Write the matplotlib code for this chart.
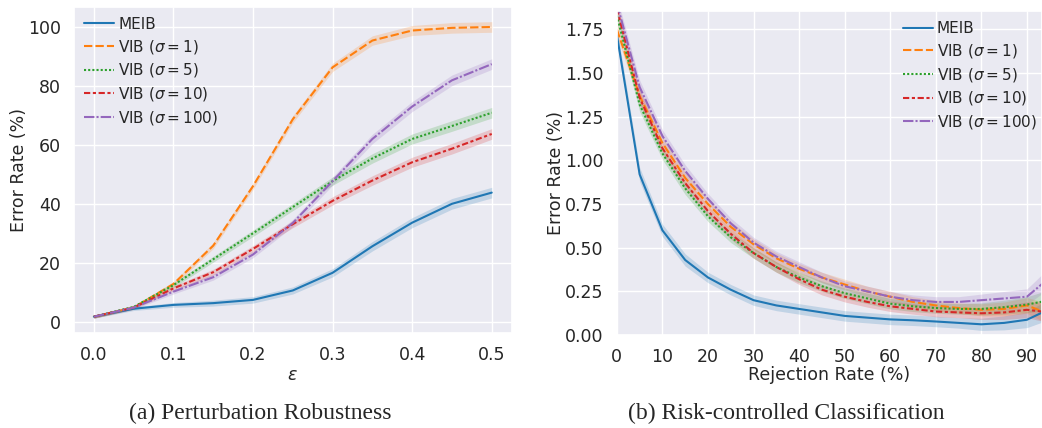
import numpy as np
import matplotlib
matplotlib.use("Agg")
import matplotlib.pyplot as plt
import seaborn as sns

# (a) perturbation robustness
eps = [0.0, 0.05, 0.1, 0.15, 0.2, 0.25, 0.3, 0.35, 0.4, 0.45, 0.5]
meib_a = [1.7, 4.4, 5.7, 6.3, 7.4, 10.6, 16.6, 25.6, 33.6, 40.0, 43.8]
vib1_a = [1.7, 4.8, 12.8, 25.8, 46.0, 68.7, 86.3, 95.4, 98.8, 99.7, 100.0]
vib5_a = [1.7, 5.0, 12.4, 21.2, 30.0, 38.9, 47.7, 55.4, 62.0, 66.4, 70.9]
vib10_a = [1.7, 4.8, 11.3, 16.8, 24.7, 33.1, 41.0, 47.9, 54.1, 58.7, 63.7]
vib100_a = [1.7, 4.8, 10.2, 15.1, 22.8, 33.5, 47.7, 62.0, 73.0, 81.9, 87.4]
err_a = [0.5, 0.6, 0.8, 1.0, 1.1, 1.2, 1.4, 1.6, 1.7, 1.8, 1.8]

# (b) risk-controlled classification
rej = [0, 5, 10, 15, 20, 25, 30, 35, 40, 45, 50, 55, 60, 65, 70, 75, 80, 85, 90, 95]
meib_b = [1.72, 0.92, 0.60, 0.43, 0.33, 0.26, 0.20, 0.17, 0.15, 0.13, 0.11, 0.10, 0.09,
          0.085, 0.078, 0.07, 0.062, 0.07, 0.088, 0.15]
vib1_b = [1.75, 1.37, 1.10, 0.90, 0.75, 0.62, 0.52, 0.44, 0.38, 0.33, 0.29, 0.25, 0.22,
          0.19, 0.17, 0.155, 0.145, 0.15, 0.17, 0.12]
vib5_b = [1.83, 1.32, 1.04, 0.84, 0.68, 0.56, 0.47, 0.39, 0.33, 0.28, 0.24, 0.21, 0.18,
          0.165, 0.155, 0.15, 0.15, 0.16, 0.175, 0.20]
vib10_b = [1.87, 1.36, 1.07, 0.87, 0.71, 0.58, 0.47, 0.39, 0.32, 0.26, 0.22, 0.19, 0.165,
           0.15, 0.135, 0.13, 0.125, 0.13, 0.145, 0.13]
vib100_b = [1.90, 1.42, 1.14, 0.94, 0.78, 0.64, 0.53, 0.45, 0.39, 0.33, 0.28, 0.25, 0.22,
            0.20, 0.19, 0.19, 0.20, 0.21, 0.22, 0.33]
err_b = [0.04, 0.04, 0.035, 0.035, 0.03, 0.03, 0.03, 0.03, 0.03, 0.03, 0.03, 0.03, 0.03,
         0.03, 0.03, 0.03, 0.035, 0.04, 0.045, 0.06]

labels = ["MEIB", r"VIB ($\sigma=1$)", r"VIB ($\sigma=5$)", r"VIB ($\sigma=10$)", r"VIB ($\sigma=100$)"]
colors = ["tab:blue", "tab:orange", "tab:green", "tab:red", "tab:purple"]
dashes = [(None, None), (4, 1.5), (1, 1), (3, 1.25, 1.5, 1.25), (5, 1, 1, 1)]

sns.set_theme(style="darkgrid")
plt.rcParams['font.family'] = ['DejaVu Sans']

fig = plt.figure(figsize=(10.42, 4.28), dpi=100)
ax1 = fig.add_axes([0.071, 0.222, 0.420, 0.762])
ax2 = fig.add_axes([0.592, 0.217, 0.408, 0.757])


def draw(ax, x, series, err):
    x = np.array(x)
    for ys, lab, c, d in zip(series, labels, colors, dashes):
        ys = np.array(ys)
        e = np.array(err)
        ln, = ax.plot(x, ys, color=c, lw=1.5, label=lab)
        if d[0] is not None:
            ln.set_dashes(d)
        ax.fill_between(x, ys - e, ys + e, color=c, alpha=0.2, lw=0)


leg_kw = dict(frameon=False, fontsize=11, borderaxespad=0.25, handlelength=2.0,
              handletextpad=0.25, labelspacing=0.38)

draw(ax1, eps, [meib_a, vib1_a, vib5_a, vib10_a, vib100_a], err_a)
ax1.set_xlabel(r"$\epsilon$", fontsize=12.5, labelpad=1)
ax1.set_ylabel("Error Rate (%)", fontsize=12.5, labelpad=0)
ax1.tick_params(labelsize=12.5)
ax1.set_xticks([0.0, 0.1, 0.2, 0.3, 0.4, 0.5])
ax1.set_yticks([0, 20, 40, 60, 80, 100])
ax1.legend(loc="upper left", **leg_kw)

draw(ax2, rej, [meib_b, vib1_b, vib5_b, vib10_b, vib100_b], err_b)
ax2.set_xlim(0, 93.3)
ax2.set_ylim(0, 1.855)
ax2.set_xticks(range(0, 100, 10))
ax2.set_yticks([0, 0.25, 0.5, 0.75, 1.0, 1.25, 1.5, 1.75])
ax2.set_yticklabels(["0.00", "0.25", "0.50", "0.75", "1.00", "1.25", "1.50", "1.75"])
ax2.set_xlabel("Rejection Rate (%)", fontsize=12.5, labelpad=0)
ax2.set_ylabel("Error Rate (%)", fontsize=12.5, labelpad=0)
ax2.tick_params(labelsize=12.5)
ax2.legend(loc="upper right", bbox_to_anchor=(1.012, 1.0), **leg_kw)

fig.text(0.25, 0.035, "(a) Perturbation Robustness", ha="center", va="center",
         fontsize=17, family="Liberation Serif")
fig.text(0.755, 0.035, "(b) Risk-controlled Classification", ha="center", va="center",
         fontsize=17, family="Liberation Serif")

fig.savefig("out.png", dpi=100)
